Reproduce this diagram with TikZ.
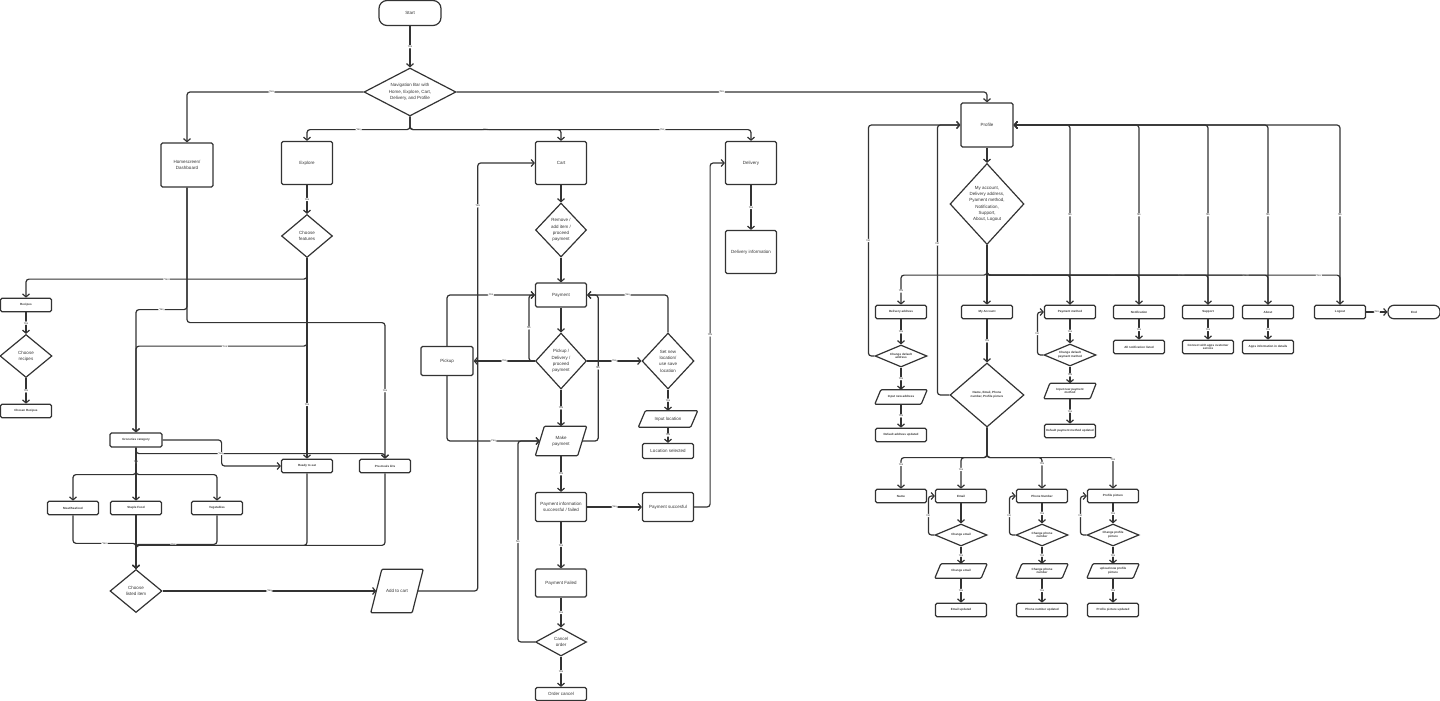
\documentclass[tikz,border=0pt]{standalone}
\usepackage{fontspec}
\setmainfont{Liberation Sans}
\usetikzlibrary{shapes.geometric, arrows.meta}

\begin{document}
\begin{tikzpicture}[x=1pt, y=-1pt,
    every node/.style={text=black!80},
    txt/.style={font=\fontsize{4.5}{6.3}\selectfont},
    sml/.style={font=\bfseries\fontsize{3}{3.8}\selectfont},
    proc/.style={draw=black!80, line width=1.2pt, rounded corners=1.5pt, align=center, inner sep=0pt},
    decision/.style={draw=black!80, line width=1.2pt, diamond, align=center, inner sep=0pt},
    io/.style={align=center, inner sep=0pt},
    term/.style={draw=black!80, line width=1.2pt, align=center},
    big/.style={minimum width=51pt, minimum height=43pt},
    slim/.style={minimum width=51pt, minimum height=13.5pt},
    arr/.style={draw=black!80, line width=1.2pt, rounded corners=3pt, -{Straight Barb[length=3pt,width=7pt]}},
    lbl/.style={fill=white, inner sep=0.8pt, font=\fontsize{2.7}{3}\selectfont}
]
    \useasboundingbox (0,0) rectangle (1440,701);

    % Start and navigation bar
    \node[term, txt, rounded corners=8pt, minimum width=62pt, minimum height=25pt] (start) at (410,13) {Start};
    \node[decision, txt, minimum width=92pt, minimum height=48pt, shape aspect=1.9] (nav) at (410,92) {Navigation Bar with\\Home, Explore, Cart,\\Delivery, and Profile};

    % Main sections
    \node[proc, txt, minimum width=52pt, minimum height=44pt] (home) at (187,165) {Homescreen/\\Dashboard};
    \node[proc, txt, big] (explore) at (307,163) {Explore};
    \node[proc, txt, big] (cart) at (561,163) {Cart};
    \node[proc, txt, big] (deliv) at (751,163) {Delivery};
    \node[proc, txt, minimum width=52pt, minimum height=44pt] (profile) at (987,125) {Profile};

    % Explore and groceries
    \node[decision, txt, minimum width=51pt, minimum height=43pt, shape aspect=1.2] (feat) at (307,236) {Choose\\features};
    \node[proc, sml, slim] (recipes) at (26,305) {Recipes};
    \node[decision, txt, minimum width=52pt, minimum height=43pt, shape aspect=1.2] (chrec) at (26,356) {Choose\\recipes};
    \node[proc, sml, slim] (chosen) at (26,411) {Chosen Recipes};
    \node[proc, sml, minimum width=52pt, minimum height=14pt] (groc) at (136,440) {Groceries category};
    \node[proc, sml, slim] (ready) at (307,466) {Ready to eat};
    \node[proc, sml, slim] (premeal) at (385,466) {Pre-meals kits};
    \node[proc, sml, slim] (meat) at (73,508) {Meat/Seafood};
    \node[proc, sml, slim] (staple) at (136,508) {Staple Food};
    \node[proc, sml, slim] (veg) at (217,508) {Vegetables};
    \node[decision, txt, minimum width=52pt, minimum height=43pt, shape aspect=1.2] (chlist) at (136,591) {Choose\\listed item};
    \node[io, txt, minimum width=41pt, minimum height=43pt] (addcart) at (397,591) {Add to cart};

    % Cart and payment
    \node[decision, txt, minimum width=51pt, minimum height=54pt, shape aspect=0.95] (remove) at (561,230) {Remove /\\add item /\\proceed\\payment};
    \node[proc, txt, minimum width=51pt, minimum height=24pt] (pay) at (561,295) {Payment};
    \node[decision, txt, minimum width=51pt, minimum height=56pt, shape aspect=0.9] (pdp) at (561,361) {Pickup /\\Delivery /\\proceed\\payment};
    \node[proc, txt, minimum width=52pt, minimum height=29pt] (pickup) at (447,361) {Pickup};
    \node[decision, txt, minimum width=52pt, minimum height=56pt, shape aspect=0.9] (setloc) at (668,361) {Set new\\location/\\use save\\location};
    \node[io, txt, minimum width=42pt, minimum height=29pt] (makepay) at (561,441) {Make\\payment};
    \node[io, txt, minimum width=52pt, minimum height=16pt] (inloc) at (668,419) {Input location};
    \node[proc, txt, minimum width=51pt, minimum height=15pt] (locsel) at (668,451) {Location selected};
    \node[proc, txt, minimum width=51pt, minimum height=29pt] (payinfo) at (561,507) {Payment information\\successful / failed};
    \node[proc, txt, minimum width=51pt, minimum height=29pt] (paysucc) at (668,507) {Payment succesful};
    \node[proc, txt, minimum width=51pt, minimum height=28pt] (payfail) at (561,583) {Payment Failed};
    \node[decision, txt, minimum width=51pt, minimum height=28pt, shape aspect=1.8] (cancel) at (561,642) {Cancel\\order};
    \node[proc, txt, minimum width=51pt, minimum height=13pt] (ordcan) at (561,694) {Order cancel};
    \node[proc, txt, big] (delinfo) at (751,252) {Delivery information};

    % Profile menu
    \node[decision, txt, minimum width=74pt, minimum height=81pt, shape aspect=0.91] (menu) at (987,204) {My account,\\Delivery address,\\Pyament method,\\Notification,\\Support,\\About, Logout};
    \node[proc, sml, slim] (deladdr) at (901,312) {Delivery address};
    \node[decision, sml, minimum width=52pt, minimum height=22pt, shape aspect=2.4] (chdef) at (901,356) {Change default\\address};
    \node[io, sml, minimum width=46pt, minimum height=14pt] (inaddr) at (901,397) {Input new address};
    \node[proc, sml, slim] (addrupd) at (901,435) {Default address updated};
    \node[proc, sml, slim] (myacc) at (987,312) {My Account};
    \node[decision, sml, minimum width=74pt, minimum height=64pt, shape aspect=1.15] (fields) at (987,395) {Name, Email, Phone\\number, Profile picture};
    \node[proc, sml, slim] (paymeth) at (1070,312) {Payment method};
    \node[decision, sml, minimum width=52pt, minimum height=22pt, shape aspect=2.4] (chpay) at (1070,355) {Change default\\payment method};
    \node[io, sml, minimum width=46pt, minimum height=15pt] (inpay) at (1070,391) {Input new payment\\method};
    \node[proc, sml, slim] (payupd) at (1070,431) {Default payment method updated};
    \node[proc, sml, slim] (notif) at (1139,312) {Notification};
    \node[proc, sml, slim] (notiflist) at (1139,347) {All notification listed};
    \node[proc, sml, slim] (support) at (1208,312) {Support};
    \node[proc, sml, slim] (connect) at (1208,347) {Connect with apps customer\\service};
    \node[proc, sml, slim] (about) at (1268,312) {About};
    \node[proc, sml, slim] (appinfo) at (1268,347) {Apps information in details};
    \node[proc, sml, slim] (logout) at (1340,312) {Logout};
    \node[term, sml, rounded corners=6pt, minimum width=52pt, minimum height=13.5pt] (endn) at (1414,312) {End};

    % Account details
    \node[proc, sml, slim] (name) at (901,496) {Name};
    \node[proc, sml, slim] (email) at (961,496) {Email};
    \node[decision, sml, minimum width=52pt, minimum height=22pt, shape aspect=2.4] (chemail) at (961,535) {Change email};
    \node[io, sml, minimum width=46pt, minimum height=14pt] (inemail) at (961,571) {Change email};
    \node[proc, sml, slim] (emailupd) at (961,610) {Email updated};
    \node[proc, sml, slim] (phone) at (1042,496) {Phone Number};
    \node[decision, sml, minimum width=52pt, minimum height=22pt, shape aspect=2.4] (chphone) at (1042,535) {Change phone\\number};
    \node[io, sml, minimum width=46pt, minimum height=14pt] (inphone) at (1042,571) {Change phone\\number};
    \node[proc, sml, slim] (phoneupd) at (1042,610) {Phone number updated};
    \node[proc, sml, slim] (pic) at (1113,496) {Profile picture};
    \node[decision, sml, minimum width=52pt, minimum height=22pt, shape aspect=2.4] (chpic) at (1113,535) {Change profile\\picture};
    \node[io, sml, minimum width=46pt, minimum height=14pt] (inpic) at (1113,571) {upload new profile\\picture};
    \node[proc, sml, slim] (picupd) at (1113,610) {Profile picture updated};

    % Slanted input/output outlines
    \foreach \n/\s in {addcart/5.5, makepay/4.5, inloc/3.5, inaddr/3, inpay/3, inemail/3, inphone/3, inpic/3}
        \draw[draw=black!80, line width=1.2pt, rounded corners=1pt]
            ([xshift=-\s pt]\n.south west) -- ([xshift=\s pt]\n.north west) -- ([xshift=\s pt]\n.north east) -- ([xshift=-\s pt]\n.south east) -- cycle;

    % Navigation connectors
    \draw[arr] (start) -- node[lbl]{Yes} (nav);
    \draw[arr] (nav.west) -| node[lbl, pos=0.26]{Yes} (home.north);
    \draw[arr] (nav.east) -| node[lbl, pos=0.25]{Yes} (profile.north);
    \draw[arr] (nav.south) -- ++(0,13) -| node[lbl, pos=0.25]{Yes} (explore.north);
    \draw[arr] (nav.south) -- ++(0,13) -| node[lbl, pos=0.25]{Yes} (cart.north);
    \draw[arr] (nav.south) -- ++(0,13) -| node[lbl, pos=0.37]{Yes} (deliv.north);

    % Explore and homescreen
    \draw[arr] (explore) -- node[lbl]{Yes} (feat);
    \draw[arr] (feat.south) -- ++(0,21) -| node[lbl, pos=0.25]{Yes} (recipes.north);
    \draw[arr] (feat.south) -- node[lbl, pos=0.73]{Yes} (ready.north);
    \draw[arr] (feat.south) -- ++(0,88) -| node[lbl, pos=0.24]{Yes} (groc.north);
    \draw[arr] (home.south) -- ++(0,122) -| node[lbl, pos=0.25]{Yes} (groc.north);
    \draw[arr] (home.south) -- ++(0,135) -| node[lbl, pos=0.75]{Yes} (premeal.north);
    \draw[arr] (recipes) -- node[lbl]{Yes} (chrec);
    \draw[arr] (chrec) -- node[lbl]{Yes} (chosen);
    \draw[arr] (groc.east) -- ++(59,0) |- (ready.west);
    \draw[arr] (groc.south) -- ++(0,6) -| node[lbl, pos=0.17]{Yes} (premeal.north);
    \draw[arr] (groc.south) -- node[lbl, pos=0.27]{Yes} (staple.north);
    \draw[arr] (groc.south) -- ++(0,27) -| (meat.north);
    \draw[arr] (groc.south) -- ++(0,27) -| (veg.north);
    \draw[arr] (meat.south) -- ++(0,28) -| node[lbl, pos=0.25]{Yes} (chlist.north);
    \draw[arr] (staple) -- (chlist);
    \draw[arr] (veg.south) -- ++(0,29) -| node[lbl, pos=0.27]{Yes} (chlist.north);
    \draw[arr] (ready.south) -- ++(0,72) -| (chlist.north);
    \draw[arr] (premeal.south) -- ++(0,72) -| (chlist.north);
    \draw[arr] (chlist.east) -- node[lbl]{Yes} (addcart.west);
    \draw[arr] (addcart.east) -- ++(60,0) |- node[lbl, pos=0.45]{Yes} (cart.west);

    % Cart and payment
    \draw[arr] (cart) -- (remove);
    \draw[arr] (remove) -- (pay);
    \draw[arr] (pay) -- (pdp);
    \draw[arr] (pdp.west) -- node[lbl]{Yes} (pickup.east);
    \draw[arr] (pickup.north) |- node[lbl, pos=0.75]{Yes} (pay.west);
    \draw[arr] (pickup.south) |- node[lbl, pos=0.75]{Yes} (makepay.west);
    \draw[arr] (pdp.west) -- ++(-6,0) |- node[lbl, pos=0.25]{No} (pay.west);
    \draw[arr] (pdp.east) -- node[lbl]{Yes} (setloc.west);
    \draw[arr] (setloc.north) |- node[lbl, pos=0.75]{Yes} (pay.east);
    \draw[arr] (makepay.east) -- ++(16,0) |- node[lbl, pos=0.25]{No} (pay.east);
    \draw[arr] (pdp) -- node[lbl]{Yes} (makepay);
    \draw[arr] (setloc) -- node[lbl]{Yes} (inloc);
    \draw[arr] (inloc) -- node[lbl]{Yes} (locsel);
    \draw[arr] (makepay) -- node[lbl]{Yes} (payinfo);
    \draw[arr] (payinfo) -- node[lbl]{Yes} (paysucc);
    \draw[arr] (payinfo) -- node[lbl]{Yes} (payfail);
    \draw[arr] (payfail) -- node[lbl]{Yes} (cancel);
    \draw[arr] (cancel) -- node[lbl]{Yes} (ordcan);
    \draw[arr] (cancel.west) -- ++(-17,0) |- node[lbl, pos=0.25]{No} (makepay.west);
    \draw[arr] (paysucc.east) -- ++(16,0) |- node[lbl, pos=0.25]{Yes} (deliv.west);
    \draw[arr] (deliv) -- node[lbl]{Yes} (delinfo);

    % Profile
    \draw[arr] (profile) -- (menu);
    \draw[arr] (menu.south) -- ++(0,30) -| node[lbl, pos=0.77]{Yes} (deladdr.north);
    \draw[arr] (menu) -- (myacc);
    \draw[arr] (menu.south) -- ++(0,30) -| node[lbl, pos=0.25]{Yes} (paymeth.north);
    \draw[arr] (menu.south) -- ++(0,30) -| node[lbl, pos=0.41]{Yes} (notif.north);
    \draw[arr] (menu.south) -- ++(0,30) -| node[lbl, pos=0.44]{Yes} (support.north);
    \draw[arr] (menu.south) -- ++(0,30) -| node[lbl, pos=0.46]{Yes} (about.north);
    \draw[arr] (menu.south) -- ++(0,30) -| node[lbl, pos=0.47]{Yes} (logout.north);
    \draw[arr] (paymeth.north) |- node[lbl, pos=0.25]{No} (profile.east);
    \draw[arr] (notif.north) |- node[lbl, pos=0.25]{No} (profile.east);
    \draw[arr] (support.north) |- node[lbl, pos=0.25]{No} (profile.east);
    \draw[arr] (about.north) |- node[lbl, pos=0.25]{No} (profile.east);
    \draw[arr] (logout.north) |- node[lbl, pos=0.25]{No} (profile.east);
    \draw[arr] (deladdr) -- node[lbl]{Yes} (chdef);
    \draw[arr] (chdef) -- node[lbl]{Yes} (inaddr);
    \draw[arr] (inaddr) -- node[lbl]{Yes} (addrupd);
    \draw[arr] (chdef.west) -- ++(-6,0) |- node[lbl, pos=0.25]{No} (profile.west);
    \draw[arr] (myacc) -- node[lbl]{Yes} (fields);
    \draw[arr] (fields.west) -- ++(-12,0) |- node[lbl, pos=0.28]{No} (profile.west);
    \draw[arr] (paymeth) -- node[lbl]{Yes} (chpay);
    \draw[arr] (chpay.west) -- ++(-6,0) |- node[lbl, pos=0.25]{No} (paymeth.west);
    \draw[arr] (chpay) -- node[lbl]{Yes} (inpay);
    \draw[arr] (inpay) -- node[lbl]{Yes} (payupd);
    \draw[arr] (notif) -- node[lbl]{Yes} (notiflist);
    \draw[arr] (support) -- node[lbl]{Yes} (connect);
    \draw[arr] (about) -- node[lbl]{Yes} (appinfo);
    \draw[arr] (logout) -- node[lbl]{Yes} (endn);

    % Account details
    \draw[arr] (fields.south) -- ++(0,30) -| node[lbl, pos=0.61]{Yes} (name.north);
    \draw[arr] (fields.south) -- ++(0,30) -| node[lbl, pos=0.69]{Yes} (email.north);
    \draw[arr] (fields.south) -- ++(0,30) -| node[lbl, pos=0.6]{Yes} (phone.north);
    \draw[arr] (fields.south) -- ++(0,30) -| node[lbl, pos=0.53]{Yes} (pic.north);
    \draw[arr] (email) -- (chemail);
    \draw[arr] (chemail.west) -- ++(-6,0) |- node[lbl, pos=0.25]{No} (email.west);
    \draw[arr] (chemail) -- node[lbl]{Yes} (inemail);
    \draw[arr] (inemail) -- node[lbl]{Yes} (emailupd);
    \draw[arr] (phone) -- node[lbl]{Yes} (chphone);
    \draw[arr] (chphone.west) -- ++(-6,0) |- node[lbl, pos=0.25]{No} (phone.west);
    \draw[arr] (chphone) -- node[lbl]{Yes} (inphone);
    \draw[arr] (inphone) -- node[lbl]{Yes} (phoneupd);
    \draw[arr] (pic) -- node[lbl]{Yes} (chpic);
    \draw[arr] (chpic.west) -- ++(-6,0) |- node[lbl, pos=0.25]{No} (pic.west);
    \draw[arr] (chpic) -- node[lbl]{Yes} (inpic);
    \draw[arr] (inpic) -- node[lbl]{Yes} (picupd);
\end{tikzpicture}
\end{document}
